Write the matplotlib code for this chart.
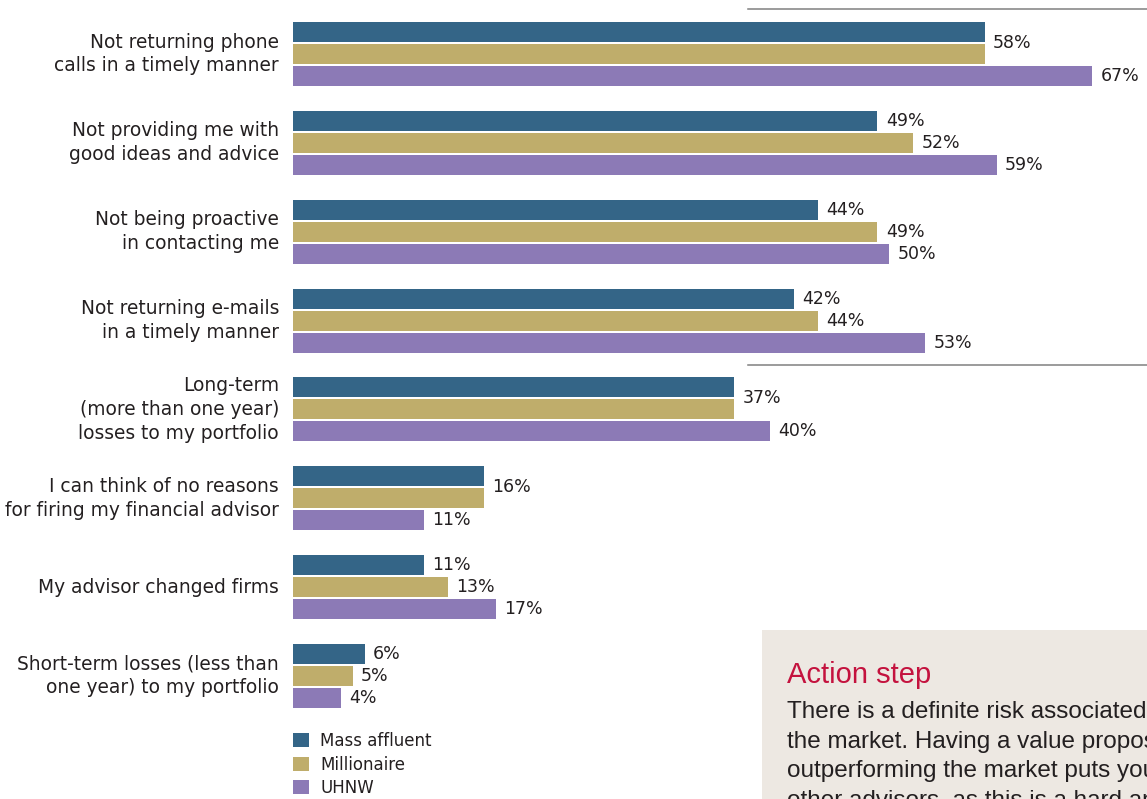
import matplotlib.pyplot as plt
from matplotlib.lines import Line2D
from matplotlib.patches import Rectangle

OUTPUT_IMAGE = "out.png"

# Colour palette
COLOR_MASS = "#346587"
COLOR_MILL = "#BFAD6B"
COLOR_UHNW = "#8C7AB6"
COLOR_TEXT = "#231F20"
COLOR_RULE = "#808080"
COLOR_BOX = "#EDE8E2"
COLOR_ACCENT = "#C4123E"

categories = [
    "Not returning phone\ncalls in a timely manner",
    "Not providing me with\ngood ideas and advice",
    "Not being proactive\nin contacting me",
    "Not returning e-mails\nin a timely manner",
    "Long-term\n(more than one year)\nlosses to my portfolio",
    "I can think of no reasons\nfor firing my financial advisor",
    "My advisor changed firms",
    "Short-term losses (less than\none year) to my portfolio",
]
series_names = ["Mass affluent", "Millionaire", "UHNW"]
mass_affluent = [58, 49, 44, 42, 37, 16, 11, 6]
millionaire = [58, 52, 49, 44, 37, 16, 13, 5]
uhnw = [67, 59, 50, 53, 40, 11, 17, 4]

action_title = "Action step"
action_lines = [
    "There is a definite risk associated with",
    "the market. Having a value proposition",
    "outperforming the market puts you",
    "other advisors, as this is a hard and",
]

CHART_FONT = ["DejaVu Sans"]
BOX_FONT = ["Liberation Sans", "DejaVu Sans"]
plt.rcParams["font.family"] = CHART_FONT

W, H, DPI = 1147, 799, 100
fig = plt.figure(figsize=(W / DPI, H / DPI), dpi=DPI)

# axis runs from the bar baseline to the right edge, groups spaced one unit apart
ax = fig.add_axes([293 / W, 0, (W - 293) / W, 1])
ax.set_xlim(0, 71.6)
ax.set_ylim(8.384, -0.608)
ax.axis("off")

step = 0.2476
bar_h = 0.225
colors = [COLOR_MASS, COLOR_MILL, COLOR_UHNW]
all_series = [mass_affluent, millionaire, uhnw]
ypos = list(range(len(categories)))

for k, (vals, col, name) in enumerate(zip(all_series, colors, series_names)):
    ys = [y + (k - 1) * step for y in ypos]
    ax.barh(ys, vals, height=bar_h, color=col, label=name)

# value labels; a shared label sits between the first two bars when they tie
for i in ypos:
    a, b, c = mass_affluent[i], millionaire[i], uhnw[i]
    if a == b:
        items = [(a, i - step / 2), (c, i + step)]
    else:
        items = [(a, i - step), (b, i), (c, i + step)]
    for v, y in items:
        ax.annotate(f"{v}%", xy=(v, y), xytext=(6, 0), textcoords="offset points",
                    ha="left", va="center", fontsize=12.5, color=COLOR_TEXT)

# category labels
for i, label in enumerate(categories):
    ax.annotate(label, xy=(0, i), xytext=(-10, 0), textcoords="offset points",
                ha="right", va="center", fontsize=13.4, color=COLOR_TEXT,
                linespacing=1.33)

ax.legend(loc="upper left", bbox_to_anchor=(293 / W, 1 - 732 / H),
          bbox_transform=fig.transFigure, frameon=False, fontsize=12,
          handlelength=0.95, handleheight=0.95, handletextpad=0.7,
          labelspacing=0.33, borderpad=0, borderaxespad=0,
          labelcolor=COLOR_TEXT)

# thin rules on the right side
for y in (9, 365):
    fig.add_artist(Line2D([748 / W, 1], [1 - y / H, 1 - y / H],
                          color=COLOR_RULE, linewidth=1.1,
                          transform=fig.transFigure))

# sidebar box
fig.add_artist(Rectangle((762 / W, 0), (W - 762) / W, 169 / H,
                         facecolor=COLOR_BOX, edgecolor="none",
                         transform=fig.transFigure, zorder=0))
fig.text(787 / W, 1 - 683 / H, action_title, fontsize=21, color=COLOR_ACCENT,
         ha="left", va="baseline", family=BOX_FONT)
for k, line in enumerate(action_lines):
    fig.text(787 / W, 1 - (718 + 29.7 * k) / H, line, fontsize=17.5,
             color=COLOR_TEXT, ha="left", va="baseline", family=BOX_FONT)

fig.savefig(OUTPUT_IMAGE, dpi=DPI)
